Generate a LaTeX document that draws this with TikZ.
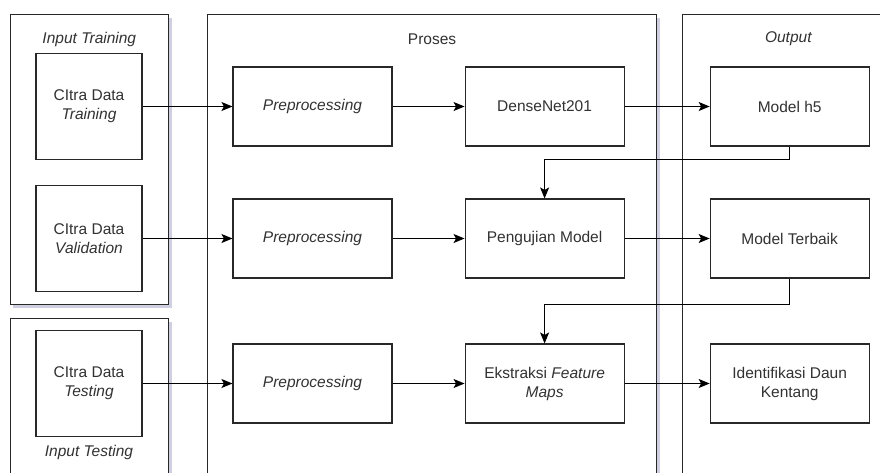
\documentclass[tikz,border=0pt]{standalone}
\usepackage{fontspec}
\setmainfont{Liberation Sans}
\usetikzlibrary{
arrows.meta,
positioning,
calc,
shadows
}
\definecolor{linegray}{RGB}{40,40,40}
\definecolor{textgray}{RGB}{50,50,50}

\begin{document}
\begin{tikzpicture}[
    x=1pt, y=-1pt,
    line width=1.1pt,
    >={Stealth[length=11pt,width=9pt,inset=2.5pt]},
    group/.style={draw=linegray,
      fill=white,
      anchor=north west,
      drop shadow={shadow xshift=3pt, shadow yshift=-3pt, opacity=0.3, fill=blue!25!gray}},
    title/.style={font=\fontsize{15.5}{19}\selectfont, text=textgray},
    box/.style={draw=linegray,
      fill=white,
      align=center,
      text=textgray,
      font=\fontsize{15.5}{19}\selectfont,
      minimum width=159pt,
      minimum height=79pt},
    imgbox/.style={box, minimum width=106pt, minimum height=106pt},
    flow/.style={draw=black, ->}
  ]
  \useasboundingbox (0,0) rectangle (880,472);
  \clip (0,0) rectangle (880,472);

	\node[group, minimum width=158.5pt, minimum height=290pt] (GTrain) at (9.5,14) {};
	\node[group, minimum width=158.5pt, minimum height=220pt] (GTest) at (9.5,318) {};
	\node[group, minimum width=449pt, minimum height=520pt] (GProses) at (207,14) {};
	\node[group, minimum width=212pt, minimum height=520pt] (GOut) at (682,14) {};

	\node[title] at ($(GTrain.north)+(0,25)$) {\textit{Input Training}};
	\node[title] at ($(GProses.north)+(0,25)$) {Proses};
	\node[title] at ($(GOut.north)+(0,25)$) {\textit{Output}};

	\node[imgbox] (In1) at (89,106.5) {CItra Data\\\textit{Training}};
	\node[imgbox] (In2) at (89,238.5) {CItra Data\\\textit{Validation}};
	\node[imgbox] (In3) at (89,383.5) {CItra Data\\\textit{Testing}};
	\node[title, below=4pt of In3] (TTest) {\textit{Input Testing}};

	\node[box] (Pre1) at (312.5,106.5) {\textit{Preprocessing}};
	\node[box] (Pre2) at (312.5,238.5) {\textit{Preprocessing}};
	\node[box] (Pre3) at (312.5,383.5) {\textit{Preprocessing}};

	\node[box, right=72pt of Pre1] (DN) {DenseNet201};
	\node[box, right=72pt of Pre2] (Uji) {Pengujian Model};
	\node[box, right=72pt of Pre3] (Eks) {Ekstraksi \textit{Feature}\\\textit{Maps}};

	\node[box, right=85pt of DN] (H5) {Model h5};
	\node[box, right=85pt of Uji] (Best) {Model Terbaik};
	\node[box, right=85pt of Eks] (Id) {Identifikasi Daun\\Kentang};

  \draw[flow] (In1) -- (Pre1);
  \draw[flow] (In2) -- (Pre2);
  \draw[flow] (In3) -- (Pre3);
  \draw[flow] (Pre1) -- (DN);
  \draw[flow] (Pre2) -- (Uji);
  \draw[flow] (Pre3) -- (Eks);
  \draw[flow] (DN) -- (H5);
  \draw[flow] (Uji) -- (Best);
  \draw[flow] (Eks) -- (Id);
  \draw[flow] (H5.south) -- ++(0,13) -| (Uji.north);
  \draw[flow] (Best.south) -- ++(0,26) -| (Eks.north);
\end{tikzpicture}
\end{document}
